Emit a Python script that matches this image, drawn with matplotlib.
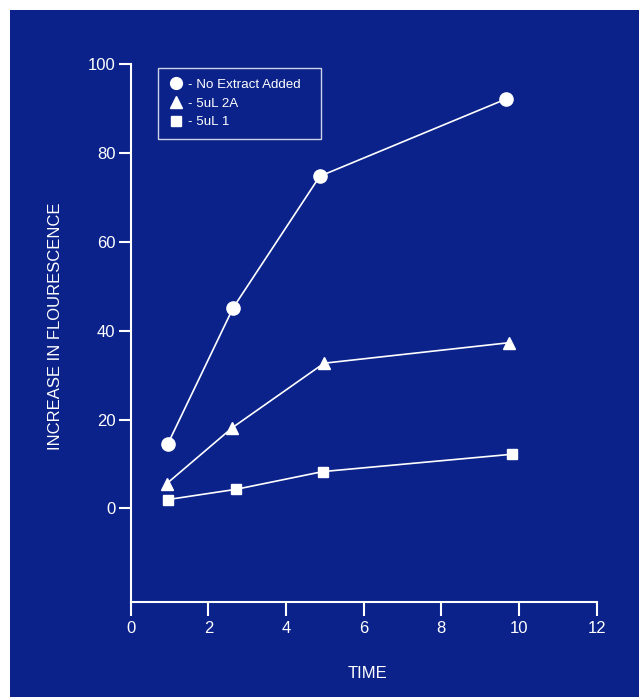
import matplotlib
matplotlib.use('Agg')
import matplotlib.pyplot as plt
from matplotlib.patches import Rectangle
from matplotlib.lines import Line2D

plt.rcParams['font.family'] = ['Liberation Sans', 'DejaVu Sans']

# data
time_none = [0.96, 2.64, 4.87, 9.67]
fluor_none = [14.6, 45.2, 74.8, 92.2]
time_2a = [0.93, 2.62, 4.98, 9.73]
fluor_2a = [5.6, 18.2, 32.7, 37.3]
time_1 = [0.96, 2.71, 4.95, 9.82]
fluor_1 = [2.0, 4.3, 8.3, 12.2]
labels = ['- No Extract Added', '- 5uL 2A', '- 5uL 1']

bg = '#0a228a'
fg = 'white'

fig = plt.figure(figsize=(6.39, 6.97), dpi=100)
fig.patch.set_facecolor('white')
fig.add_artist(Rectangle((10/639, 0), 1 - 10/639, 1 - 10/697, transform=fig.transFigure,
                         facecolor=bg, edgecolor='none', zorder=-10))

ax = fig.add_axes([130.7/639, 95.3/697, 466/639, 537.4/697])
ax.set_facecolor('none')

ax.plot(time_none, fluor_none, color=fg, lw=1.2, marker='o', ms=9.5, mec=fg, mfc=fg)
ax.plot(time_2a, fluor_2a, color=fg, lw=1.2, marker='^', ms=9, mec=fg, mfc=fg)
ax.plot(time_1, fluor_1, color=fg, lw=1.2, marker='s', ms=6.5, mec=fg, mfc=fg)

ax.set_xlim(0, 12)
ax.set_ylim(-21, 100)
ax.set_xticks(range(0, 13, 2))
ax.set_yticks(range(0, 101, 20))

for s in ['top', 'right']:
    ax.spines[s].set_visible(False)
for s in ['left', 'bottom']:
    ax.spines[s].set_color(fg)
    ax.spines[s].set_linewidth(1.5)

ax.tick_params(axis='both', colors=fg, labelcolor=fg, width=1.5, labelsize=12, direction='out')
ax.tick_params(axis='y', length=9, pad=2)
ax.tick_params(axis='x', length=10, pad=4)

ax.set_xlabel('TIME', color=fg, fontsize=12)
ax.set_ylabel('INCREASE IN FLOURESCENCE', color=fg, fontsize=12)
ax.xaxis.set_label_coords(0.509, -0.1197)
ax.yaxis.set_label_coords(-0.145, 0.513)

handles = [
    Line2D([], [], ls='none', marker='o', ms=8.5, color=fg),
    Line2D([], [], ls='none', marker='^', ms=8.5, color=fg),
    Line2D([], [], ls='none', marker='s', ms=6.5, color=fg),
]
leg = ax.legend(handles, labels, loc='upper left',
                bbox_to_anchor=(27.3/466, 1 - (68 - 64.3)/537.4 - 69/537.4, 163/466, 69/537.4),
                mode='expand', borderaxespad=0, fancybox=False, frameon=True,
                facecolor='none', edgecolor=fg, fontsize=9.6, labelcolor=fg,
                handlelength=1.15, handletextpad=0.32, labelspacing=0.48, borderpad=0.8)
leg.get_frame().set_linewidth(1.0)

fig.savefig('out.png', dpi=100, facecolor=fig.get_facecolor())
